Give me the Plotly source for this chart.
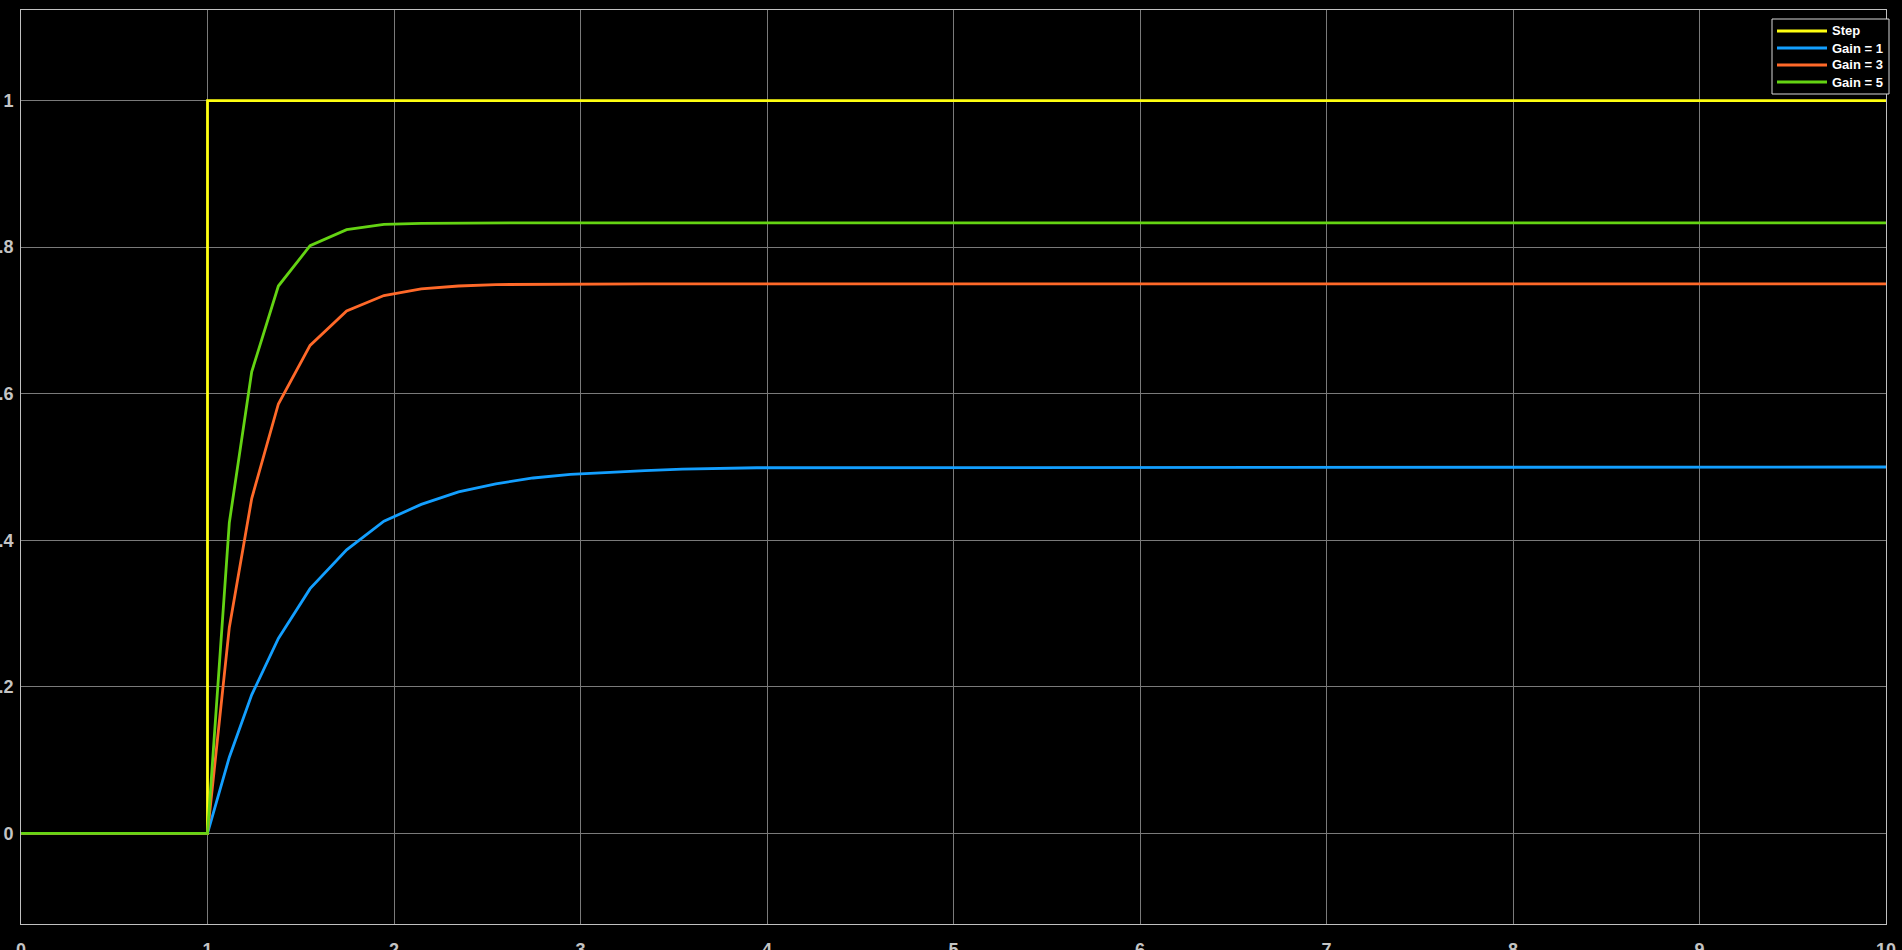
import plotly.graph_objects as go

# ---- data ----
step_t = [0, 1, 1, 10]
step_y = [0, 0, 1, 1]

t = [0, 1, 1.117, 1.237, 1.38, 1.55, 1.746, 1.946, 2.146, 2.346, 2.546, 2.746,
     2.946, 3.146, 3.346, 3.546, 3.746, 3.946, 10]

gain1 = [0, 0, 0.104, 0.189, 0.266, 0.334, 0.387, 0.426, 0.449, 0.466, 0.477, 0.485,
         0.490, 0.493, 0.495, 0.497, 0.498, 0.499, 0.5]
gain3 = [0, 0, 0.281, 0.457, 0.586, 0.666, 0.713, 0.734, 0.743, 0.747, 0.749, 0.7495,
         0.7498, 0.7499, 0.75, 0.75, 0.75, 0.75, 0.75]
gain5 = [0, 0, 0.424, 0.630, 0.747, 0.802, 0.824, 0.831, 0.8325, 0.833, 0.8333, 0.8333,
         0.8333, 0.8333, 0.8333, 0.8333, 0.8333, 0.8333, 0.8333]

series_names = ["Step", "Gain = 1", "Gain = 3", "Gain = 5"]
series_colors = ["#FFFF11", "#139FFF", "#FF6929", "#64D413"]

x_ticks = list(range(0, 11))
y_ticks = [0, 0.2, 0.4, 0.6, 0.8, 1]
y_tick_labels = ["0", "0.2", "0.4", "0.6", "0.8", "1"]

# ---- figure geometry (pixels) ----
W, H = 1902, 950
ML, MR, MT, MB = 21, W - 1886, 10, H - 924
PW, PH = W - ML - MR, H - MT - MB


def px(xpage):
    return (xpage - ML) / PW


def py(ypage):
    return (H - MB - ypage) / PH


fig = go.Figure()
fig.add_trace(go.Scatter(x=step_t, y=step_y, mode="lines", name=series_names[0],
                         line=dict(color=series_colors[0], width=2.8)))
for name, color, ys in zip(series_names[1:], series_colors[1:], [gain1, gain3, gain5]):
    fig.add_trace(go.Scatter(x=t, y=ys, mode="lines", name=name,
                             line=dict(color=color, width=2.8)))

tick_font = dict(family="Liberation Sans, Arial, sans-serif", size=18,
                 color="#c4c4c4", weight="bold")

# ---- legend box (drawn as paper-referenced shapes + text) ----
shapes = [dict(type="rect", xref="paper", yref="paper",
               x0=px(1772), x1=px(1889), y0=py(94), y1=py(19),
               line=dict(color="#d8d8d8", width=1), fillcolor="#000000", layer="above")]
annotations = []
row_y = [31, 48, 65, 82]
for name, color, ry in zip(series_names, series_colors, row_y):
    shapes.append(dict(type="line", xref="paper", yref="paper",
                       x0=px(1777), x1=px(1827), y0=py(ry), y1=py(ry),
                       line=dict(color=color, width=2.8), layer="above"))
    annotations.append(dict(xref="paper", yref="paper", x=px(1830), y=py(ry),
                            xanchor="left", yanchor="middle", showarrow=False,
                            text=name,
                            font=dict(family="Liberation Sans, Arial, sans-serif",
                                      size=13, color="#ffffff", weight="bold")))

fig.update_layout(
    width=W, height=H,
    margin=dict(l=ML, r=MR, t=MT, b=MB, autoexpand=False),
    paper_bgcolor="#000000", plot_bgcolor="#000000",
    showlegend=False,
    shapes=shapes, annotations=annotations,
    xaxis=dict(
        range=[0, 10], tickvals=x_ticks, ticktext=[str(v) for v in x_ticks],
        showgrid=True, gridcolor="#7a7a7a", gridwidth=1, automargin=False,
        zeroline=False, showline=True, linecolor="#c0c0c0", linewidth=1,
        mirror=True, ticks="", tickfont=tick_font, ticklabelstandoff=9,
    ),
    yaxis=dict(
        range=[-0.1237, 1.1237], tickvals=y_ticks, ticktext=y_tick_labels,
        showgrid=True, gridcolor="#7a7a7a", gridwidth=1, automargin=False,
        zeroline=False, showline=True, linecolor="#c0c0c0", linewidth=1,
        mirror=True, ticks="", tickfont=tick_font, ticklabelstandoff=3,
    ),
)

fig.write_html(
    "out.html",
    config={"displayModeBar": False},
    post_script="document.body.style.margin='0';document.body.style.overflow='hidden';"
                "document.body.style.background='#000';",
)
